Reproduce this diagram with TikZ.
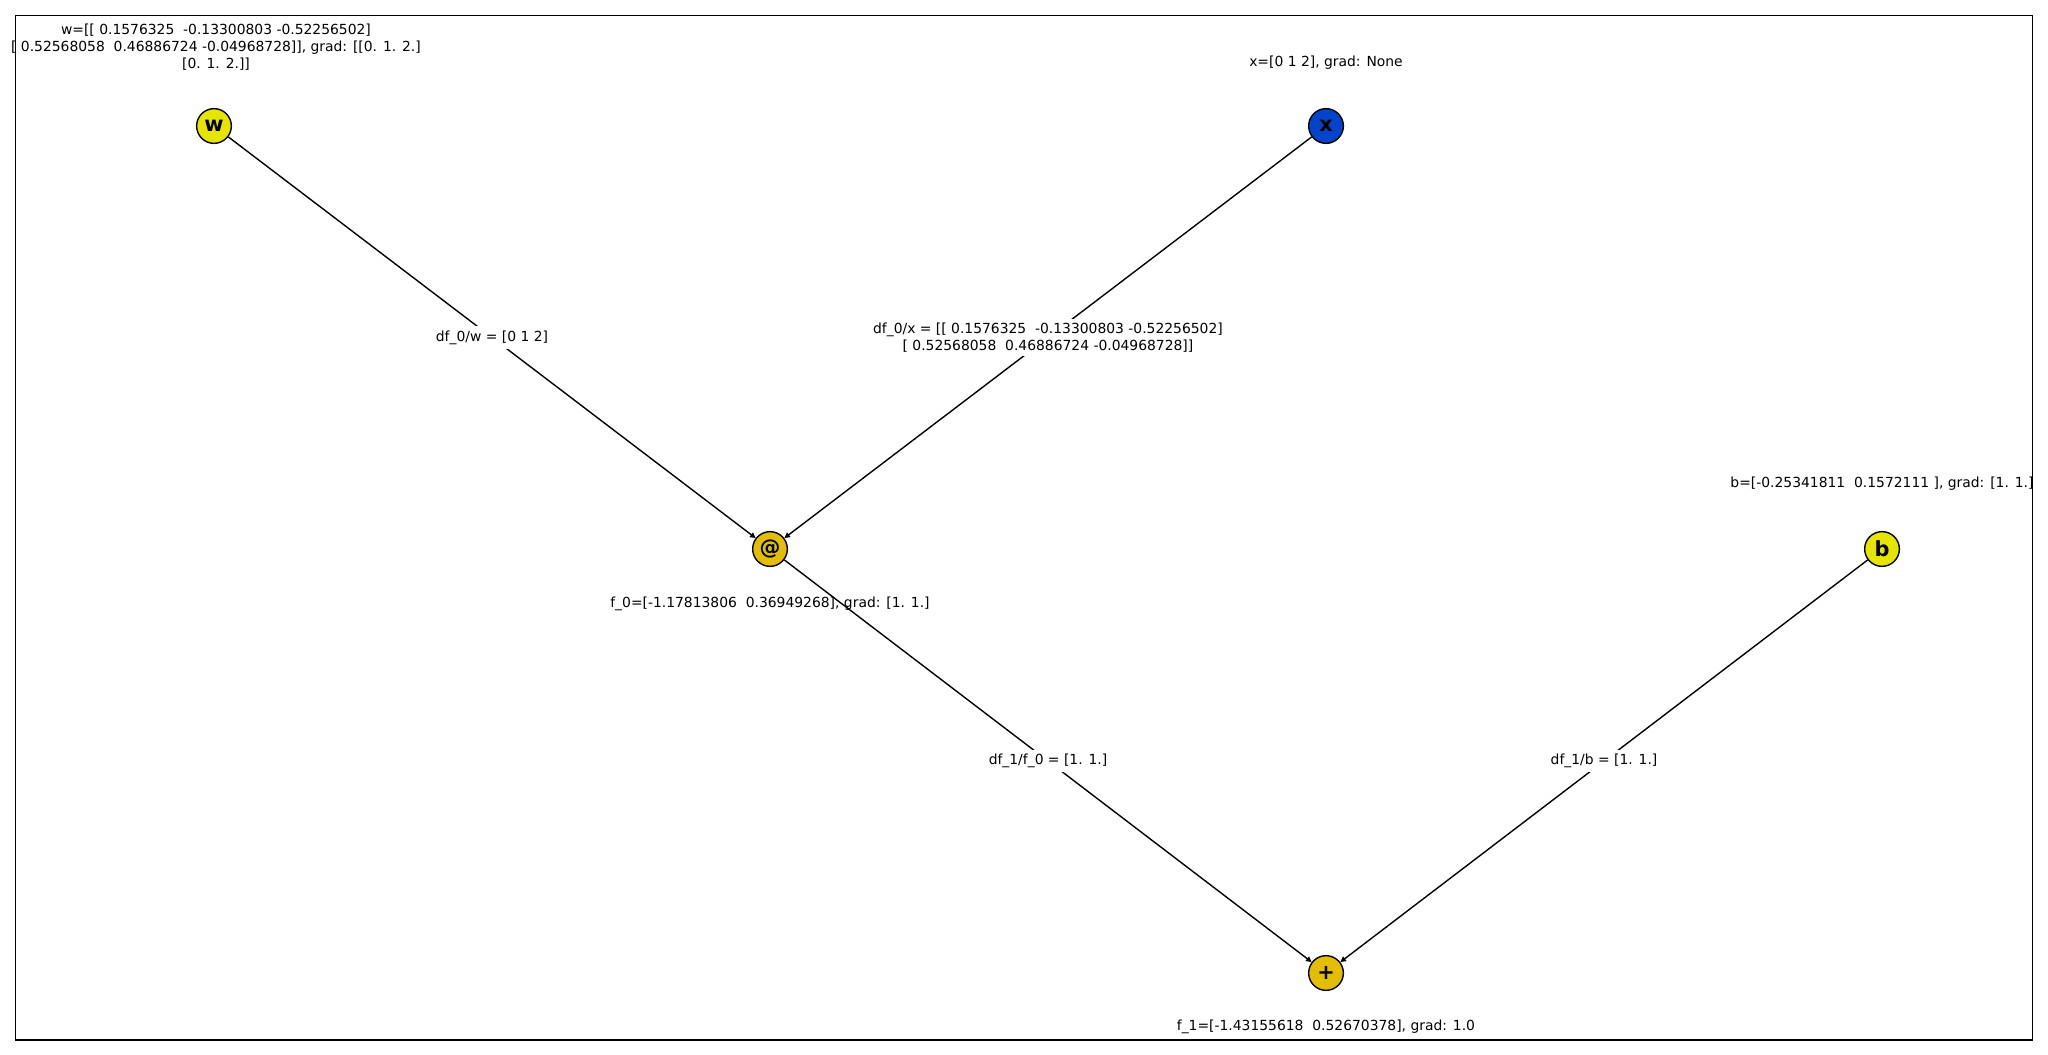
\documentclass[tikz,border=0pt]{standalone}
\usepackage{fontspec}
\setmainfont{DejaVu Sans}
\usetikzlibrary{arrows.meta}
\definecolor{leafyellow}{HTML}{E5E500}
\definecolor{opgold}{HTML}{E3BE00}
\definecolor{inputblue}{HTML}{0044CC}

\begin{document}
\begin{tikzpicture}[
  x=0.72pt,
  y=-0.72pt,
  var/.style={
    circle,
    draw,
    line width=1pt,
    minimum size=25pt,
    inner sep=0pt,
    font=\fontsize{15}{18}\selectfont\bfseries
  },
  arrow/.style={-{Triangle[length=4pt,width=4pt]}, line width=1pt},
  grad/.style={fill=white, inner sep=3pt, align=center, font=\fontsize{10}{12}\selectfont},
  val/.style={align=center, font=\fontsize{10}{12}\selectfont}
]
\useasboundingbox (0,0) rectangle (2048,1055);

% Frame
\draw[line width=0.8pt] (15.5,15.5) rectangle (2032.5,1040);

% Nodes
\node[var, fill=leafyellow] (w) at (214,126) {w};
\node[var, fill=inputblue] (x) at (1326,126) {x};
\node[var, fill=opgold] (matmul) at (770,549) {@};
\node[var, fill=leafyellow] (b) at (1882,549) {b};
\node[var, fill=opgold] (add) at (1326,973) {+};

% Value labels
\node[val] (wVal) at (216,47) {w={[[} 0.1576325~~-0.13300803 -0.52256502{]}\\{[} 0.52568058~~0.46886724 -0.04968728{]]}, grad: {[[}0. 1. 2.{]}\\{[}0. 1. 2.{]]}};
\node[val] (xVal) at (1326,63) {x={[}0 1 2{]}, grad: None};
\node[val] (matmulVal) at (770,604) {f\_0={[}-1.17813806~~0.36949268{]}, grad: {[}1. 1.{]}};
\node[val] (bVal) at (1882,484) {b={[}-0.25341811~~0.1572111 {]}, grad: {[}1. 1.{]}};
\node[val] (addVal) at (1326,1027) {f\_1={[}-1.43155618~~0.52670378{]}, grad: 1.0};

% Arrows
\draw[arrow] (w) -- node[grad] {df\_0/w = {[}0 1 2{]}} (matmul);
\draw[arrow] (x) -- node[grad] {df\_0/x = {[[} 0.1576325~~-0.13300803 -0.52256502{]}\\{[} 0.52568058~~0.46886724 -0.04968728{]]}} (matmul);
\draw[arrow] (matmul) -- node[grad] {df\_1/f\_0 = {[}1. 1.{]}} (add);
\draw[arrow] (b) -- node[grad] {df\_1/b = {[}1. 1.{]}} (add);

\end{tikzpicture}
\end{document}
